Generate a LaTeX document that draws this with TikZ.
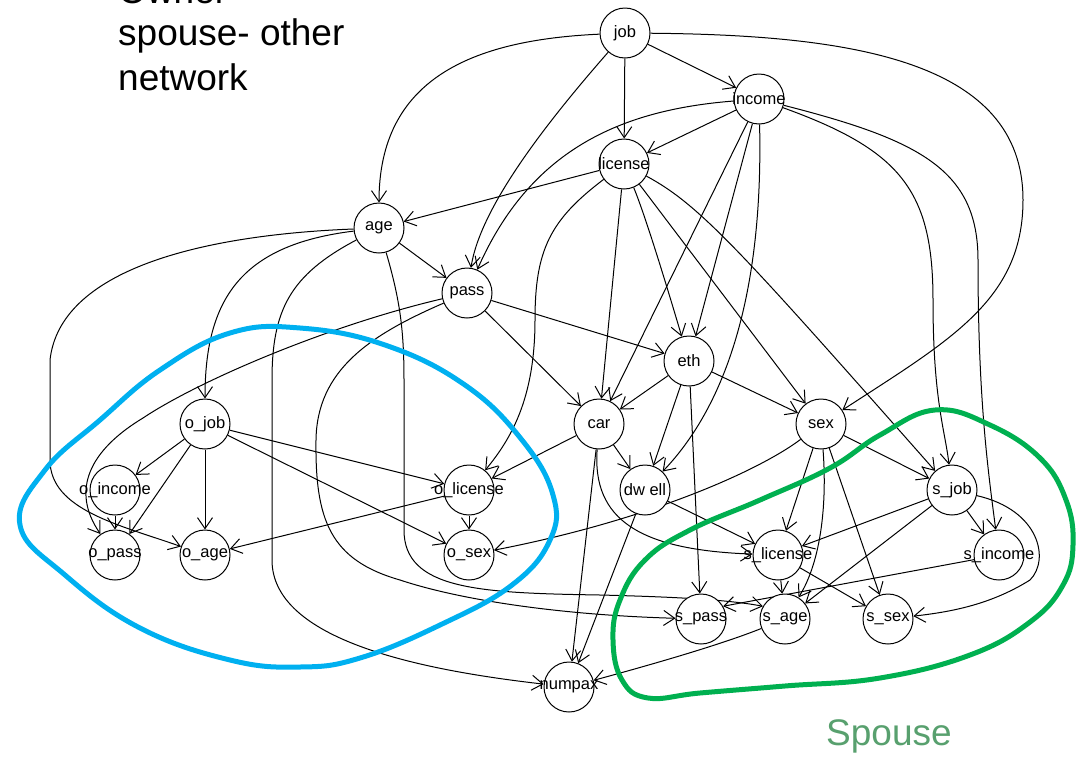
\documentclass[tikz,border=0pt]{standalone}
\usepackage{fontspec}
\setmainfont{Liberation Sans}
\usetikzlibrary{arrows.meta}
\definecolor{ownerblue}{RGB}{0,176,240}
\definecolor{spousegreen}{RGB}{0,176,80}
\definecolor{spousetext}{RGB}{88,160,110}
\pgfdeclarelayer{edges}
\pgfsetlayers{edges,main}
\begin{document}
\begin{tikzpicture}[x=1pt,y=-1pt,
  nd/.style={circle,draw,line width=1pt,fill=white,minimum size=50pt,inner sep=0pt,font=\fontsize{16.5}{18}\selectfont},
  e/.style={line width=1pt,-{Straight Barb[length=11pt,width=15pt,line width=1pt]}},
  grp/.style={line width=5pt},
  ttl/.style={anchor=base west,inner sep=0pt,font=\fontsize{37}{44}\selectfont}
]
\useasboundingbox (0,0) rectangle (1077,756);

% titles
\node[ttl] (t1) at (118,3) {Owner};
\node[ttl] (t2) at (118,45) {spouse- other};
\node[ttl] (t3) at (118,90) {network};
\node[ttl,text=spousetext] (sp) at (826,745) {Spouse};

% nodes
\node[nd] (job) at (625,33) {\makebox[0pt]{job}};
\node[nd] (income) at (759,99) {\makebox[0pt]{income}};
\node[nd] (license) at (624,164) {\makebox[0pt]{license}};
\node[nd] (age) at (379,228) {\makebox[0pt]{age}};
\node[nd] (pass) at (467,293) {\makebox[0pt]{pass}};
\node[nd] (eth) at (689,361) {\makebox[0pt]{eth}};
\node[nd] (car) at (599,424) {\makebox[0pt]{car}};
\node[nd] (sex) at (821,424) {\makebox[0pt]{sex}};
\node[nd] (ojob) at (205,424) {\makebox[0pt]{o\_job}};
\node[nd] (oincome) at (115,490) {\makebox[0pt]{o\_income}};
\node[nd] (olicense) at (469,490) {\makebox[0pt]{o\_license}};
\node[nd] (dwell) at (645,490) {\makebox[0pt]{dw ell}};
\node[nd] (sjob) at (952,490) {\makebox[0pt]{s\_job}};
\node[nd] (opass) at (115,555) {\makebox[0pt]{o\_pass}};
\node[nd] (oage) at (205,555) {\makebox[0pt]{o\_age}};
\node[nd] (osex) at (469,555) {\makebox[0pt]{o\_sex}};
\node[nd] (slicense) at (778,555) {\makebox[0pt]{s\_license}};
\node[nd] (sincome) at (999,555) {\makebox[0pt]{s\_income}};
\node[nd] (spass) at (701,619) {\makebox[0pt]{s\_pass}};
\node[nd] (sage) at (785,619) {\makebox[0pt]{s\_age}};
\node[nd] (ssex) at (888,619) {\makebox[0pt]{s\_sex}};
\node[nd] (numpax) at (569,687) {\makebox[0pt]{numpax}};

\begin{pgfonlayer}{edges}
% edges from job
\draw[e] (job) .. controls (470,40) and (379,80) .. (age);
\draw[e] (job) .. controls (540,130) and (480,210) .. (pass);
\draw[e] (job) -- (license);
\draw[e] (job) -- (income);
\draw[e] (job) .. controls (850,35) and (1023,60) .. (1023,200) .. controls (1023,300) and (950,340) .. (sex);
% income
\draw[e] (income) -- (license);
\draw[e] (income) .. controls (620,110) and (530,150) .. (pass);
\draw[e] (income) -- (car);
\draw[e] (income) -- (eth);
\draw[e] (income) .. controls (762,230) and (750,380) .. (dwell);
\draw[e] (income) .. controls (900,150) and (933,190) .. (933,300) .. controls (933,400) and (945,430) .. (sjob);
\draw[e] (income) .. controls (920,140) and (978,170) .. (978,260) .. controls (978,400) and (988,470) .. (sincome);
% license
\draw[e] (license) -- (age);
\draw[e] (license) .. controls (550,220) and (535,250) .. (535,320) .. controls (535,400) and (510,440) .. (olicense);
\draw[e] (license) -- (car);
\draw[e] (license) .. controls (645,215) and (665,280) .. (eth);
\draw[e] (license) -- (sex);
\draw[e] (license) .. controls (700,205) and (740,250) .. (sjob);
% age
\draw[e] (age) -- (pass);
\draw[e] (age) .. controls (240,245) and (205,300) .. (ojob);
\draw[e] (age) .. controls (200,235) and (60,270) .. (50,360) -- (50,460) .. controls (50,510) and (120,525) .. (oage);
\draw[e] (age) .. controls (290,275) and (272,310) .. (272,380) -- (272,560) .. controls (272,640) and (420,670) .. (numpax);
\draw[e] (age) .. controls (400,300) and (404,330) .. (404,380) -- (404,530) .. controls (404,590) and (480,593) .. (600,595) .. controls (680,597) and (730,600) .. (sage.150);
% pass
\draw[e] (pass) -- (eth);
\draw[e] (pass) -- (car);
\draw[e] (pass) .. controls (330,325) and (200,380) .. (143,418) .. controls (90,450) and (70,490) .. (opass);
\draw[e] (pass) .. controls (370,335) and (317,370) .. (316,440) .. controls (315,520) and (330,560) .. (400,580) .. controls (460,600) and (560,615) .. (spass);
% owner group
\draw[e] (ojob) -- (oincome);
\draw[e] (ojob) -- (opass);
\draw[e] (ojob) -- (oage);
\draw[e] (ojob) -- (olicense);
\draw[e] (ojob) -- (osex);
\draw[e] (oincome) -- (opass);
\draw[e] (olicense) -- (osex);
\draw[e] (olicense) -- (oage);
% car
\draw[e] (car) -- (olicense);
\draw[e] (car) -- (dwell);
\draw[e] (car) -- (numpax);
\draw[e] (car) .. controls (592,520) and (640,550) .. (slicense);
% eth
\draw[e] (eth) -- (car);
\draw[e] (eth) -- (dwell);
\draw[e] (eth) -- (sex);
\draw[e] (eth) -- (spass);
% sex
\draw[e] (sex) .. controls (760,470) and (650,520) .. (osex);
\draw[e] (sex) -- (slicense);
\draw[e] (sex) .. controls (827,500) and (822,560) .. (sage);
\draw[e] (sex) -- (ssex);
\draw[e] (sex) -- (sjob);
% spouse group
\draw[e] (sjob) -- (slicense);
\draw[e] (sjob) -- (sage);
\draw[e] (sjob) -- (sincome);
\draw[e] (sjob) .. controls (1040,510) and (1050,560) .. (1030,580) .. controls (990,605) and (950,612) .. (ssex);
\draw[e] (slicense) -- (sage);
\draw[e] (slicense) -- (ssex);
\draw[e] (sincome) -- (spass.30);
\draw[e] (sage) .. controls (720,645) and (650,665) .. (numpax);
\draw[e] (dwell) -- (numpax);
\draw[e] (dwell) -- (slicense);
\end{pgfonlayer}

% group outlines
\draw[grp,ownerblue] plot[smooth cycle,tension=0.7] coordinates {(230,333) (300,328) (385,345) (465,385) (522,440) (553,495) (550,540) (512,585) (440,625) (360,658) (300,667) (230,660) (140,628) (65,575) (20,525) (45,470) (100,420) (160,370)};
\draw[grp,spousegreen] plot[smooth cycle,tension=0.7] coordinates {(935,410) (990,425) (1040,458) (1066,500) (1073,545) (1063,585) (1030,622) (970,655) (880,678) (785,686) (700,693) (648,698) (622,680) (613,640) (620,600) (645,560) (690,530) (760,500) (830,468) (880,435)};
\end{tikzpicture}
\end{document}
